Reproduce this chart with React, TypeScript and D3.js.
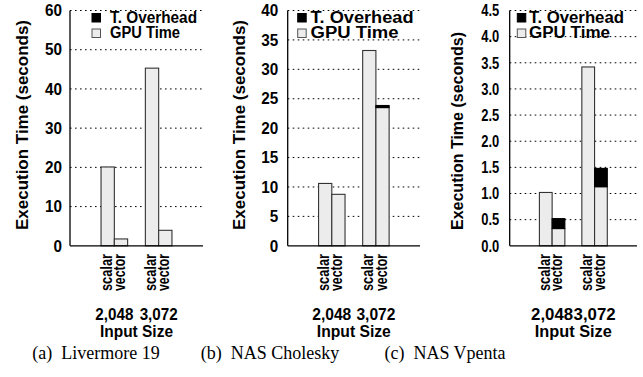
import React from "react";
import * as d3 from "d3";

const sizes = ["2,048", "3,072"];
const variants = ["scalar", "vector"];

// Livermore 19
const livScalarGpu = [20.1, 45.3];
const livScalarOvh = [0, 0];
const livVectorGpu = [1.75, 3.95];
const livVectorOvh = [0, 0];
const livTicks = [0, 10, 20, 30, 40, 50, 60];

// NAS Cholesky
const cholScalarGpu = [10.6, 33.2];
const cholScalarOvh = [0, 0];
const cholVectorGpu = [8.75, 23.5];
const cholVectorOvh = [0, 0.35];
const cholTicks = [0, 5, 10, 15, 20, 25, 30, 35, 40];

// NAS Vpenta
const vpScalarGpu = [1.02, 3.42];
const vpScalarOvh = [0, 0];
const vpVectorGpu = [0.33, 1.13];
const vpVectorOvh = [0.19, 0.35];
const vpTicks = [0, 0.5, 1.0, 1.5, 2.0, 2.5, 3.0, 3.5, 4.0, 4.5];

const legendLabels = ["T. Overhead", "GPU Time"];
const yTitle = "Execution Time (seconds)";
const xTitle = "Input Size";
const captions = ["(a)\u00a0 Livermore 19", "(b)\u00a0 NAS Cholesky", "(c)\u00a0 NAS Vpenta"];

const SANS = "'Liberation Sans', Arial, Helvetica, sans-serif";
const SERIF = "'Liberation Serif', 'Times New Roman', serif";

type PanelCfg = {
  x0: number;
  x1: number;
  ticks: number[];
  fmt: (v: number) => string;
  gpu: number[][];
  ovh: number[][];
  tickOff: number;
  tickLen: number[];
  yTitleX: number;
  yTitleY: number;
  yTitleLen: number;
  legSqX: number;
  legTextX: number;
  legLens: number[];
  sizeLen: number;
  xTitleLen: number;
  caption: string;
  captionX: number;
};

const TOP = 10.5;
const BASE = 245.8;

function Panel({ c }: { c: PanelCfg }) {
  const y = d3
    .scaleLinear()
    .domain([0, c.ticks[c.ticks.length - 1]])
    .range([BASE, TOP]);
  const xg = d3
    .scaleBand<string>()
    .domain(sizes)
    .range([c.x0, c.x1])
    .paddingInner(0.4)
    .paddingOuter(0.7);
  const xs = d3
    .scaleBand<string>()
    .domain(variants)
    .range([0, xg.bandwidth()]);
  const mid = (xg(sizes[0])! + xg(sizes[1])! + xg.bandwidth()) / 2;

  return (
    <g>
      {/* grid */}
      {c.ticks.slice(1).map((t) => (
        <line
          key={"g" + t}
          x1={c.x0}
          x2={c.x1}
          y1={y(t)}
          y2={y(t)}
          stroke="#000"
          strokeWidth={1}
          strokeDasharray="1.6,3.4"
        />
      ))}
      {/* bars */}
      {sizes.map((s, i) =>
        variants.map((v, j) => {
          const bx = xg(s)! + xs(v)!;
          const bw = xs.bandwidth();
          const g = c.gpu[j][i];
          const o = c.ovh[j][i];
          return (
            <g key={s + v}>
              <rect
                x={bx}
                y={y(g)}
                width={bw}
                height={BASE - y(g)}
                fill="#ececec"
                stroke="#333"
                strokeWidth={1.1}
              />
              {o > 0 && (
                <rect
                  x={bx}
                  y={y(g + o)}
                  width={bw}
                  height={y(g) - y(g + o)}
                  fill="#000"
                  stroke="#000"
                  strokeWidth={1.1}
                />
              )}
            </g>
          );
        })
      )}
      {/* axes */}
      <line x1={c.x0} x2={c.x0} y1={TOP} y2={BASE} stroke="#000" strokeWidth={1.3} />
      <line x1={c.x0} x2={c.x1} y1={BASE} y2={BASE} stroke="#000" strokeWidth={1.3} />
      {/* tick labels */}
      {c.ticks.map((t) => {
        const label = c.fmt(t);
        return (
          <text
            key={"t" + t}
            x={c.x0 - c.tickOff}
            y={y(t)}
            dy="0.36em"
            textAnchor="end"
            fontFamily={SANS}
            fontWeight="bold"
            fontSize={16}
            textLength={c.tickLen[label.length - 1]}
            lengthAdjust="spacingAndGlyphs"
          >
            {label}
          </text>
        );
      })}
      {/* y title */}
      <text
        transform={`translate(${c.yTitleX},${c.yTitleY}) rotate(-90)`}
        textAnchor="middle"
        dy="0.35em"
        fontFamily={SANS}
        fontWeight="bold"
        fontSize={17}
        textLength={c.yTitleLen}
        lengthAdjust="spacingAndGlyphs"
      >
        {yTitle}
      </text>
      {/* x variant labels */}
      {sizes.map((s) =>
        variants.map((v) => {
          const cx = xg(s)! + xs(v)! + xs.bandwidth() / 2 + 4;
          return (
            <text
              key={"xl" + s + v}
              transform={`translate(${cx},254) rotate(-90)`}
              textAnchor="end"
              fontFamily={SANS}
              fontWeight="bold"
              fontSize={16.5}
              textLength={37}
              lengthAdjust="spacingAndGlyphs"
            >
              {v}
            </text>
          );
        })
      )}
      {/* size labels */}
      {sizes.map((s) => (
        <text
          key={"sz" + s}
          x={xg(s)! + xg.bandwidth() / 2}
          y={320}
          textAnchor="middle"
          fontFamily={SANS}
          fontWeight="bold"
          fontSize={16}
          textLength={c.sizeLen}
          lengthAdjust="spacingAndGlyphs"
        >
          {s}
        </text>
      ))}
      <text
        x={mid}
        y={337}
        textAnchor="middle"
        fontFamily={SANS}
        fontWeight="bold"
        fontSize={16}
        textLength={c.xTitleLen}
        lengthAdjust="spacingAndGlyphs"
      >
        {xTitle}
      </text>
      {/* legend */}
      <rect x={c.legSqX} y={13.5} width={8.5} height={8.5} fill="#000" stroke="#000" strokeWidth={1} />
      <rect x={c.legSqX} y={29} width={8.5} height={8.5} fill="#ececec" stroke="#555" strokeWidth={1} />
      {legendLabels.map((l, k) => (
        <text
          key={l}
          x={c.legTextX}
          y={22.5 + k * 15.5}
          fontFamily={SANS}
          fontWeight="bold"
          fontSize={16}
          textLength={c.legLens[k]}
          lengthAdjust="spacingAndGlyphs"
        >
          {l}
        </text>
      ))}
      {/* caption */}
      <text
        x={c.captionX}
        y={359}
        textAnchor="middle"
        fontFamily={SERIF}
        fontSize={18}
      >
        {c.caption}
      </text>
    </g>
  );
}

const fmtInt = d3.format("d");
const fmt1 = d3.format(".1f");

const panels: PanelCfg[] = [
  {
    x0: 70,
    x1: 203,
    ticks: livTicks,
    fmt: fmtInt,
    gpu: [livScalarGpu, livVectorGpu],
    ovh: [livScalarOvh, livVectorOvh],
    tickOff: 8,
    tickLen: [8.5, 17, 21],
    yTitleX: 22.5,
    yTitleY: 125,
    yTitleLen: 210,
    legSqX: 92,
    legTextX: 110,
    legLens: [87, 70],
    sizeLen: 38,
    xTitleLen: 73,
    caption: captions[0],
    captionX: 96,
  },
  {
    x0: 287.7,
    x1: 420,
    ticks: cholTicks,
    fmt: fmtInt,
    gpu: [cholScalarGpu, cholVectorGpu],
    ovh: [cholScalarOvh, cholVectorOvh],
    tickOff: 9.5,
    tickLen: [8.5, 17, 21],
    yTitleX: 239,
    yTitleY: 125,
    yTitleLen: 210,
    legSqX: 297.7,
    legTextX: 310.5,
    legLens: [103, 88],
    sizeLen: 39,
    xTitleLen: 74,
    caption: captions[1],
    captionX: 270,
  },
  {
    x0: 509.7,
    x1: 637,
    ticks: vpTicks,
    fmt: fmt1,
    gpu: [vpScalarGpu, vpVectorGpu],
    ovh: [vpScalarOvh, vpVectorOvh],
    tickOff: 10.5,
    tickLen: [8.5, 17, 18],
    yTitleX: 457,
    yTitleY: 131,
    yTitleLen: 198,
    legSqX: 517.3,
    legTextX: 529,
    legLens: [95, 81],
    sizeLen: 42,
    xTitleLen: 77,
    caption: captions[2],
    captionX: 445,
  },
];

export default function App() {
  return (
    <svg
      width={643}
      height={377}
      viewBox="0 0 643 377"
      style={{ position: "absolute", left: 0, top: 0, background: "#fff" }}
    >
      <rect width={643} height={377} fill="#fff" />
      {panels.map((p, i) => (
        <Panel key={i} c={p} />
      ))}
    </svg>
  );
}
